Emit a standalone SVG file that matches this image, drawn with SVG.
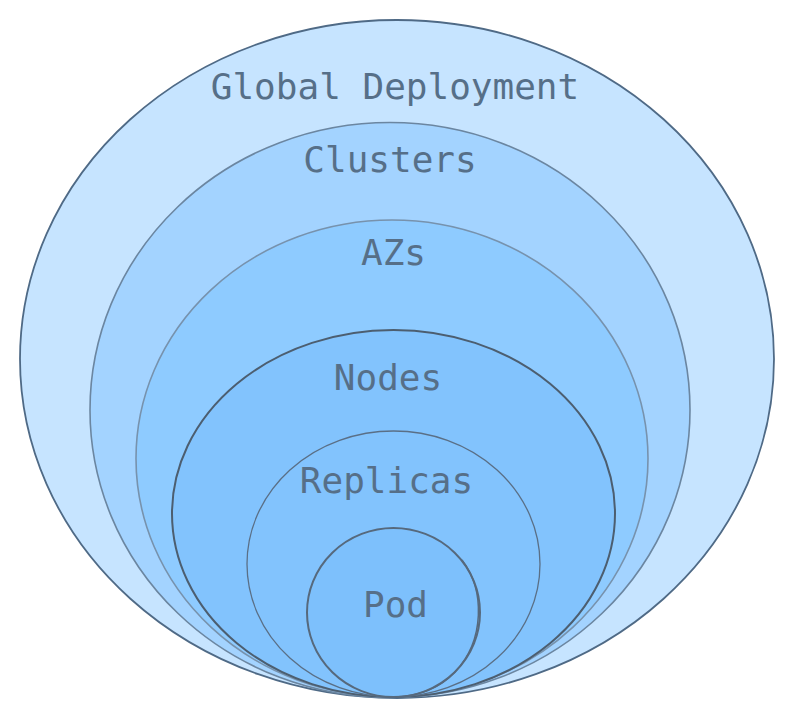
<svg xmlns="http://www.w3.org/2000/svg" width="794" height="718" viewBox="0 0 794 718">
<style>
.lbl{font-family:"DejaVu Sans Mono","Liberation Mono",monospace;font-size:36px;fill:#566f88;text-anchor:middle}
</style>
<rect width="794" height="718" fill="#ffffff"/>
<g id="global">
<ellipse cx="397" cy="359" rx="377" ry="339" fill="#c6e4ff" stroke="#4f6a86" stroke-width="1.8"/>
<text class="lbl" x="395" y="99">Global Deployment</text>
</g>
<g id="clusters">
<ellipse cx="390" cy="410" rx="300" ry="287.5" fill="#a3d3ff" stroke="#6b86a1" stroke-width="1.6"/>
<text class="lbl" x="390" y="172">Clusters</text>
</g>
<g id="azs">
<ellipse cx="392" cy="458.5" rx="256" ry="238.5" fill="#8ecbff" stroke="#7792ad" stroke-width="1.6"/>
<text class="lbl" x="393.5" y="265">AZs</text>
</g>
<g id="nodes">
<ellipse cx="393.5" cy="513.5" rx="221.5" ry="183.5" fill="#82c3fd" stroke="#4c5e70" stroke-width="2"/>
<text class="lbl" x="388" y="390">Nodes</text>
</g>
<g id="replicas">
<ellipse cx="393.5" cy="564" rx="146.5" ry="133" fill="#82c3fd" stroke="#5a6f86" stroke-width="1.3"/>
<text class="lbl" x="386.5" y="493">Replicas</text>
</g>
<g id="pod">
<ellipse cx="393.5" cy="612.5" rx="86.5" ry="84.5" fill="#7dc0fc" stroke="#56697d" stroke-width="2"/>
<path d="M462 560 C485 590 485 640 455 672 C440 688 420 696 395 697" fill="none" stroke="#56697d" stroke-width="1.5"/>
<text class="lbl" x="395.5" y="617">Pod</text>
</g>
<g id="connectors"></g>
</svg>
